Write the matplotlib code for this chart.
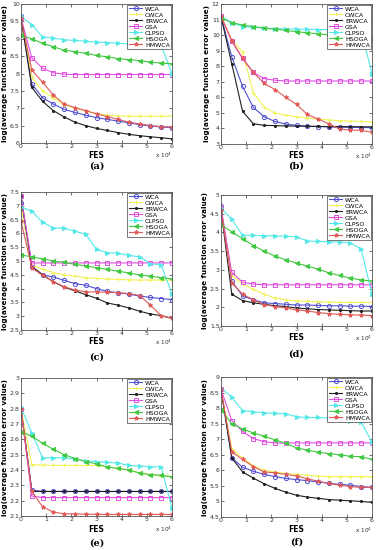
import numpy as np
import matplotlib
matplotlib.use('Agg')
import matplotlib.pyplot as plt

fes = np.linspace(0, 6, 15)

names = ['WCA', 'CWCA', 'ERWCA', 'GSA', 'CLPSO', 'HSOGA', 'HMWCA']

# (a)
a_wca = [9.65, 7.7, 7.3, 7.12, 6.97, 6.88, 6.8, 6.73, 6.68, 6.63, 6.58, 6.53, 6.49, 6.46, 6.44]
a_cwca = [9.65, 7.9, 7.5, 7.3, 7.1, 7.0, 6.92, 6.85, 6.8, 6.78, 6.77, 6.77, 6.77, 6.77, 6.77]
a_erwca = [9.6, 7.6, 7.2, 6.93, 6.75, 6.6, 6.5, 6.42, 6.36, 6.3, 6.25, 6.21, 6.18, 6.15, 6.12]
a_gsa = [9.6, 8.45, 8.15, 8.02, 7.98, 7.97, 7.97, 7.97, 7.97, 7.97, 7.97, 7.97, 7.97, 7.97, 7.97]
a_clpso = [9.65, 9.4, 9.05, 9.02, 8.97, 8.95, 8.93, 8.9, 8.89, 8.87, 8.85, 8.83, 8.82, 8.8, 8.0]
a_hsoga = [9.1, 9.0, 8.87, 8.77, 8.67, 8.63, 8.58, 8.52, 8.48, 8.43, 8.4, 8.37, 8.33, 8.3, 8.28]
a_hmwca = [9.6, 8.1, 7.75, 7.38, 7.12, 7.02, 6.93, 6.84, 6.76, 6.68, 6.6, 6.55, 6.5, 6.47, 6.46]

# (b)
b_wca = [11.2, 8.6, 6.7, 5.35, 4.75, 4.45, 4.28, 4.2, 4.15, 4.12, 4.1, 4.08, 4.07, 4.06, 4.05]
b_cwca = [11.2, 9.7, 8.9, 6.3, 5.35, 5.0, 4.85, 4.75, 4.68, 4.6, 4.55, 4.5, 4.47, 4.45, 4.43]
b_erwca = [11.2, 8.15, 5.1, 4.3, 4.2, 4.18, 4.16, 4.15, 4.14, 4.13, 4.12, 4.12, 4.11, 4.11, 4.1]
b_gsa = [11.2, 9.6, 8.5, 7.6, 7.2, 7.1, 7.05, 7.05, 7.05, 7.05, 7.05, 7.05, 7.05, 7.05, 7.05]
b_clpso = [11.2, 10.8, 10.55, 10.5, 10.45, 10.42, 10.4, 10.38, 10.37, 10.36, 10.35, 10.33, 10.32, 10.3, 7.5]
b_hsoga = [11.1, 10.8, 10.65, 10.55, 10.45, 10.38, 10.3, 10.22, 10.15, 10.08, 10.02, 9.97, 9.93, 9.9, 9.75]
b_hmwca = [11.2, 9.65, 8.5, 7.6, 6.9, 6.5, 6.0, 5.55, 4.9, 4.6, 4.3, 3.95, 3.9, 3.88, 3.75]

# (c)
c_wca = [7.1, 4.8, 4.5, 4.42, 4.3, 4.18, 4.12, 4.0, 3.9, 3.85, 3.8, 3.73, 3.68, 3.64, 3.6]
c_cwca = [7.0, 4.85, 4.7, 4.58, 4.5, 4.45, 4.4, 4.37, 4.35, 4.33, 4.32, 4.31, 4.31, 4.31, 4.31]
c_erwca = [7.35, 4.8, 4.5, 4.25, 4.05, 3.92, 3.78, 3.65, 3.48, 3.4, 3.3, 3.18, 3.08, 3.02, 2.92]
c_gsa = [7.35, 4.93, 4.93, 4.93, 4.93, 4.93, 4.93, 4.93, 4.93, 4.93, 4.93, 4.93, 4.93, 4.93, 4.93]
c_clpso = [6.95, 6.8, 6.4, 6.2, 6.18, 6.08, 5.97, 5.42, 5.3, 5.28, 5.2, 5.15, 4.9, 4.85, 3.8]
c_hsoga = [5.22, 5.15, 5.08, 5.0, 4.95, 4.88, 4.82, 4.76, 4.7, 4.63, 4.57, 4.5, 4.45, 4.4, 4.35]
c_hmwca = [6.45, 4.75, 4.48, 4.25, 4.07, 3.95, 3.88, 3.88, 3.87, 3.85, 3.82, 3.75, 3.4, 3.02, 2.92]

# (d)
d_wca = [4.7, 2.7, 2.3, 2.2, 2.12, 2.1, 2.08, 2.06, 2.06, 2.05, 2.04, 2.04, 2.03, 2.03, 2.02]
d_cwca = [4.6, 2.85, 2.62, 2.48, 2.35, 2.25, 2.2, 2.17, 2.16, 2.15, 2.14, 2.13, 2.13, 2.13, 2.13]
d_erwca = [4.6, 2.35, 2.18, 2.12, 2.08, 2.04, 2.02, 1.98, 1.96, 1.94, 1.93, 1.92, 1.91, 1.9, 1.9]
d_gsa = [4.65, 2.93, 2.67, 2.62, 2.6, 2.6, 2.6, 2.6, 2.6, 2.6, 2.6, 2.6, 2.6, 2.6, 2.6]
d_clpso = [4.65, 4.35, 3.92, 3.92, 3.91, 3.91, 3.9, 3.88, 3.77, 3.76, 3.75, 3.74, 3.72, 3.55, 2.35]
d_hsoga = [4.2, 4.02, 3.83, 3.65, 3.5, 3.37, 3.27, 3.18, 3.1, 3.02, 2.92, 2.85, 2.78, 2.73, 2.7]
d_hmwca = [4.6, 2.65, 2.35, 2.2, 2.07, 2.02, 1.98, 1.93, 1.9, 1.86, 1.83, 1.81, 1.8, 1.79, 1.78]

# (e)
e_wca = [2.8, 2.27, 2.26, 2.26, 2.26, 2.26, 2.26, 2.26, 2.26, 2.26, 2.26, 2.26, 2.26, 2.26, 2.26]
e_cwca = [2.8, 2.435, 2.433, 2.43, 2.43, 2.43, 2.43, 2.43, 2.42, 2.41, 2.4, 2.38, 2.37, 2.36, 2.36]
e_erwca = [2.8, 2.26, 2.26, 2.26, 2.26, 2.26, 2.26, 2.26, 2.26, 2.26, 2.26, 2.26, 2.26, 2.26, 2.26]
e_gsa = [2.8, 2.23, 2.22, 2.22, 2.22, 2.22, 2.22, 2.22, 2.22, 2.22, 2.22, 2.22, 2.22, 2.22, 2.22]
e_clpso = [2.81, 2.64, 2.48, 2.48, 2.48, 2.47, 2.46, 2.455, 2.45, 2.445, 2.43, 2.425, 2.42, 2.42, 2.15]
e_hsoga = [2.65, 2.62, 2.575, 2.535, 2.5, 2.475, 2.455, 2.44, 2.42, 2.41, 2.4, 2.38, 2.37, 2.365, 2.355]
e_hmwca = [2.8, 2.26, 2.16, 2.125, 2.115, 2.113, 2.112, 2.111, 2.11, 2.11, 2.11, 2.11, 2.11, 2.11, 2.11]

# (f)
f_wca = [8.6, 6.4, 6.1, 5.97, 5.87, 5.8, 5.74, 5.7, 5.67, 5.63, 5.58, 5.55, 5.52, 5.48, 5.45]
f_cwca = [8.6, 6.7, 6.4, 6.15, 6.0, 5.95, 5.9, 5.87, 5.84, 5.82, 5.8, 5.8, 5.8, 5.8, 5.8]
f_erwca = [8.6, 6.4, 5.95, 5.75, 5.57, 5.42, 5.3, 5.2, 5.14, 5.1, 5.06, 5.04, 5.02, 5.0, 4.97]
f_gsa = [8.6, 7.6, 7.25, 7.02, 6.92, 6.88, 6.88, 6.88, 6.88, 6.88, 6.88, 6.88, 6.88, 6.88, 6.88]
f_clpso = [8.65, 8.35, 7.92, 7.88, 7.85, 7.83, 7.82, 7.72, 7.7, 7.7, 7.68, 7.65, 7.6, 7.55, 6.9]
f_hsoga = [7.95, 7.5, 7.33, 7.2, 7.1, 6.98, 6.87, 6.72, 6.65, 6.58, 6.54, 6.5, 6.45, 6.44, 6.35]
f_hmwca = [8.6, 6.6, 6.35, 6.12, 5.95, 5.92, 5.87, 5.82, 5.73, 5.65, 5.58, 5.52, 5.48, 5.45, 5.45]

colors = ['#5050d0', '#f2f255', '#202020', '#e050e0', '#55e8e8', '#40c840', '#e05a5a']
markers = ['o', '+', '.', 's', '>', '<', '*']
fills = ['none', 'full', 'full', 'none', 'full', 'full', 'full']

panels = [
    ('(a)', [a_wca, a_cwca, a_erwca, a_gsa, a_clpso, a_hsoga, a_hmwca], (6, 10), np.arange(6, 10.01, 0.5)),
    ('(b)', [b_wca, b_cwca, b_erwca, b_gsa, b_clpso, b_hsoga, b_hmwca], (3, 12), np.arange(3, 12.01, 1)),
    ('(c)', [c_wca, c_cwca, c_erwca, c_gsa, c_clpso, c_hsoga, c_hmwca], (2.5, 7.5), np.arange(2.5, 7.51, 0.5)),
    ('(d)', [d_wca, d_cwca, d_erwca, d_gsa, d_clpso, d_hsoga, d_hmwca], (1.5, 5), np.arange(1.5, 5.01, 0.5)),
    ('(e)', [e_wca, e_cwca, e_erwca, e_gsa, e_clpso, e_hsoga, e_hmwca], (2.1, 3), np.arange(2.1, 3.001, 0.1)),
    ('(f)', [f_wca, f_cwca, f_erwca, f_gsa, f_clpso, f_hsoga, f_hmwca], (4.5, 9), np.arange(4.5, 9.01, 0.5)),
]

# axes boxes in pixels: left, top, right, bottom; then FES label y and tag y
boxes = [(21, 4, 172, 143), (221, 4, 372, 144),
         (21, 192, 172, 330), (221, 195, 372, 326),
         (21, 378, 172, 516), (221, 377, 372, 517)]
fes_y = [155, 156, 342, 338, 529, 530]
tag_y = [166, 166, 357, 354, 543, 542]

W, H = 376, 550
fig = plt.figure(figsize=(W / 100, H / 100), dpi=100)

for (tag, series, ylim, yticks), (l, t, r, b), fy, ty in zip(panels, boxes, fes_y, tag_y):
    ax = fig.add_axes([l / W, 1 - b / H, (r - l) / W, (b - t) / H])
    for name, vals, c, m, fs in zip(names, series, colors, markers, fills):
        ax.plot(fes, vals, color=c, marker=m, fillstyle=fs, markersize=3,
                markeredgewidth=0.7, linewidth=0.8, label=name)
    ax.set_xlim(0, 6)
    ax.set_ylim(*ylim)
    ax.set_yticks(yticks)
    ax.set_yticklabels(['%g' % round(v, 2) for v in yticks])
    ax.set_xticks(range(7))
    ax.tick_params(labelsize=4.5, length=2, width=0.5, direction='in', pad=1,
                   top=True, right=True, colors='#333333')
    for s in ax.spines.values():
        s.set_linewidth(0.6)
        s.set_color('#555555')
    ax.set_xlabel('FES', fontsize=5.5, fontweight='bold', va='center')
    ax.xaxis.set_label_coords(0.5, -(fy - b) / (b - t))
    ax.set_ylabel('log(average function error value)', fontsize=5.2,
                  fontweight='bold', labelpad=1.5)
    ax.text(1.0, -(fy - b) / (b - t), r'x 10$^4$', transform=ax.transAxes,
            fontsize=4.2, ha='right', va='center', color='#333333')
    leg = ax.legend(loc='upper right', fontsize=4.5, handlelength=2.2,
                    borderpad=0.25, labelspacing=0.1, handletextpad=0.4,
                    borderaxespad=0.1, fancybox=False, framealpha=1)
    leg.get_frame().set_linewidth(0.5)
    leg.get_frame().set_edgecolor('#444444')
    fig.text((l + r) / 2 / W, 1 - ty / H, tag, fontsize=7, fontweight='bold',
             family='DejaVu Serif', ha='center', va='center')

fig.savefig('out.png', dpi=100)
